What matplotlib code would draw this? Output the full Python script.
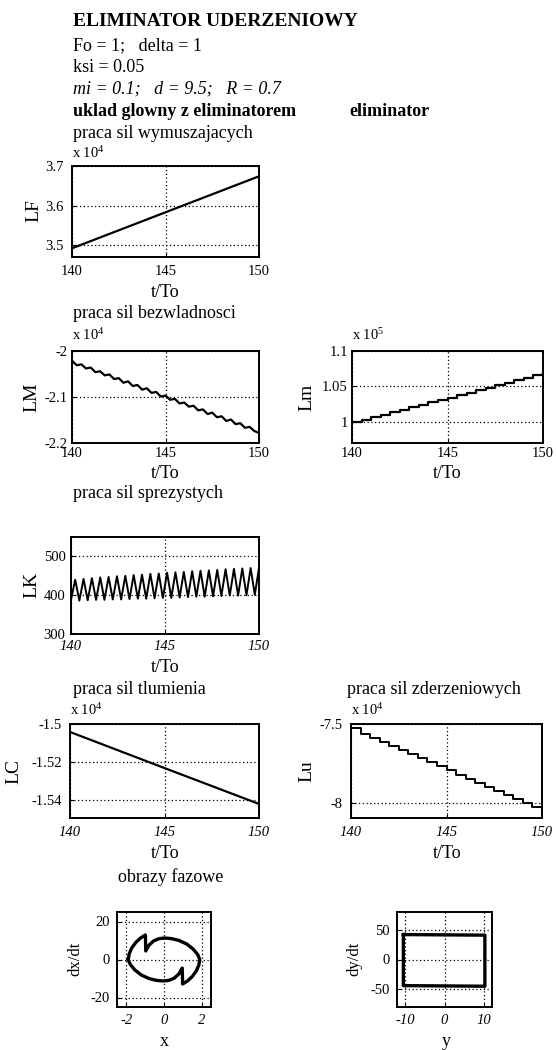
import numpy as np
import matplotlib
matplotlib.use('Agg')
import matplotlib.pyplot as plt

plt.rcParams['font.family'] = ['Liberation Serif', 'DejaVu Serif']
plt.rcParams['mathtext.fontset'] = 'custom'
plt.rcParams['mathtext.rm'] = 'Liberation Serif'
plt.rcParams['mathtext.it'] = 'Liberation Serif:italic'
plt.rcParams['axes.unicode_minus'] = False

# ---- data ----
t_lf = [140, 145, 150]
lf = [3.492, 3.583, 3.674]            # x 10^4

t_lm = np.linspace(140, 150, 41)
lm = [-2.021, -2.031, -2.029, -2.038, -2.036, -2.046, -2.044, -2.053, -2.051, -2.061,
      -2.059, -2.069, -2.066, -2.076, -2.074, -2.084, -2.081, -2.091, -2.089, -2.099,
      -2.097, -2.106, -2.104, -2.114, -2.112, -2.121, -2.119, -2.129, -2.127, -2.137,
      -2.134, -2.144, -2.142, -2.152, -2.149, -2.159, -2.157, -2.167, -2.165, -2.174,
      -2.178]                           # x 10^4

t_lm_el = np.linspace(140, 150, 21)
lm_el = [1.000, 1.003, 1.007, 1.010, 1.014, 1.017, 1.021, 1.024, 1.028, 1.031, 1.034,
         1.038, 1.041, 1.045, 1.048, 1.052, 1.055, 1.059, 1.062, 1.066, 1.069]  # x 10^5

lk_troughs = [388, 386, 387, 388, 388, 389, 389, 390, 391, 391, 392, 393, 393, 394,
              395, 396, 396, 397, 398, 399, 399, 400, 401]
lk_peaks = [440, 442, 444, 446, 447, 449, 450, 452, 453, 455, 456, 458, 459, 460,
            462, 463, 464, 465, 467, 468, 469, 470, 471]

t_lc = [140, 145, 150]
lc = [-1.5042, -1.5232, -1.5421]       # x 10^4

t_lu = np.linspace(140, 150, 21)
lu = [-7.525, -7.564, -7.589, -7.615, -7.640, -7.666, -7.692, -7.717, -7.743, -7.768,
      -7.794, -7.820, -7.845, -7.871, -7.896, -7.922, -7.948, -7.973, -7.999, -8.024,
      -8.050]                          # x 10^4

ph_x = [-1.90, -1.85, -1.72, -1.50, -1.25, -0.99, -0.97, -0.80, -0.55, -0.25, 0.05, 0.40,
        0.80, 1.20, 1.55, 1.80, 1.90, 1.85, 1.72, 1.50, 1.25, 0.99, 0.97, 0.80, 0.55,
        0.25, -0.05, -0.40, -0.80, -1.20, -1.55, -1.80, -1.90]
ph_dx = [0.0, 3.0, 6.0, 9.0, 11.3, 12.9, 4.5, 7.5, 9.8, 11.0, 11.3, 11.0, 10.0, 8.2, 5.5,
         2.5, 0.0, -3.0, -6.0, -9.0, -11.3, -12.9, -4.5, -7.5, -9.8, -11.0, -11.3, -11.0,
         -10.0, -8.2, -5.5, -2.5, 0.0]

ph_y = [-10.4, 10.2, 10.2, -10.4, -10.4]
ph_dy = [42, 41, -45, -44, 42]

W, H = 556, 1050
fig = plt.figure(figsize=(W / 100, H / 100), dpi=100)

TXT = 13      # body text size
TCK = 10.5    # tick label size


def add_ax(l, t, r, b):
    return fig.add_axes([l / W, 1 - b / H, (r - l) / W, (b - t) / H])


def ftext(x, y, s, **kw):
    kw.setdefault('va', 'center')
    kw.setdefault('fontsize', TXT)
    fig.text(x / W, 1 - y / H, s, **kw)


def style(ax, xt, yt, ytl, xl, yl, italic_x=False, pad=4):
    ax.set_xlim(*xl)
    ax.set_ylim(*yl)
    ax.set_xticks(xt)
    ax.set_yticks(yt)
    ax.set_yticklabels(ytl)
    ax.tick_params(direction='in', length=3, labelsize=TCK, pad=pad, colors='black')
    if italic_x:
        for lab in ax.get_xticklabels():
            lab.set_style('italic')
    ax.grid(True, color='black', linestyle=(0, (1, 2)), linewidth=0.9)
    for sp in ax.spines.values():
        sp.set_linewidth(1.4)


def exponent(ax_left, y, p):
    ftext(ax_left, y, r'x 10$^{%d}$' % p, fontsize=10.5, ha='left')


# header texts
ftext(73, 22, 'ELIMINATOR UDERZENIOWY', fontsize=14, fontweight='bold')
ftext(73, 46, 'Fo = 1;   delta = 1')
ftext(73, 68, 'ksi = 0.05')
ftext(73, 89, 'mi = 0.1;   d = 9.5;   R = 0.7', style='italic')
ftext(73, 111, 'uklad glowny z eliminatorem', fontweight='bold')
ftext(349, 111, 'eliminator', fontweight='bold')
ftext(73, 133, 'praca sil wymuszajacych')

# LF
ax = add_ax(72, 166, 259, 257)
ax.plot(t_lf, lf, color='black', lw=1.6)
style(ax, [140, 145, 150], [3.5, 3.6, 3.7], ['3.5', '3.6', '3.7'], (140, 150), (3.47, 3.7), pad=6)
exponent(72, 153, 4)
ftext(34, 211, 'LF', fontsize=14, rotation=90, ha='center')
ftext(165, 292, 't/To', ha='center')

# LM
ftext(73, 314, 'praca sil bezwladnosci')
ax = add_ax(72, 351, 259, 443)
ax.plot(t_lm, lm, color='black', lw=1.6)
style(ax, [140, 145, 150], [-2.2, -2.1, -2.0], ['-2.2', '-2.1', '-2'], (140, 150), (-2.2, -2.0), pad=3)
exponent(72, 335, 4)
ftext(32, 397, 'LM', fontsize=14, rotation=90, ha='center')
ftext(165, 473, 't/To', ha='center')

# Lm (eliminator)
ax = add_ax(352, 351, 543, 443)
ax.step(t_lm_el, lm_el, where='post', color='black', lw=1.6)
style(ax, [140, 145, 150], [1.0, 1.05, 1.1], ['1', '1.05', '1.1'], (140, 150), (0.97, 1.1), pad=3)
exponent(352, 335, 5)
ftext(307, 397, 'Lm', fontsize=14, rotation=90, ha='center')
ftext(447, 473, 't/To', ha='center')

# LK
ftext(73, 494, 'praca sil sprezystych')
t_lk = np.linspace(140, 150, 2 * len(lk_peaks))
lk = np.empty(2 * len(lk_peaks))
lk[0::2] = lk_troughs
lk[1::2] = lk_peaks
ax = add_ax(71, 537, 259, 634)
ax.plot(t_lk, lk, color='black', lw=1.4)
style(ax, [140, 145, 150], [300, 400, 500], ['300', '400', '500'], (140, 150), (300, 550),
      italic_x=True, pad=4)
ftext(32, 585, 'LK', fontsize=14, rotation=90, ha='center')
ftext(165, 667, 't/To', ha='center')

# LC
ftext(73, 690, 'praca sil tlumienia')
ax = add_ax(70, 724, 259, 818)
ax.plot(t_lc, lc, color='black', lw=1.6)
style(ax, [140, 145, 150], [-1.54, -1.52, -1.5], ['-1.54', '-1.52', '-1.5'], (140, 150),
      (-1.5495, -1.5), italic_x=True, pad=6)
exponent(70, 710, 4)
ftext(14, 771, 'LC', fontsize=14, rotation=90, ha='center')
ftext(165, 854, 't/To', ha='center')

# Lu
ftext(347, 690, 'praca sil zderzeniowych')
ax = add_ax(351, 724, 542, 818)
ax.step(t_lu, lu, where='post', color='black', lw=1.4)
style(ax, [140, 145, 150], [-8.0, -7.5], ['-8', '-7.5'], (140, 150), (-8.095, -7.5),
      italic_x=True, pad=6)
exponent(351, 710, 4)
ftext(307, 771, 'Lu', fontsize=14, rotation=90, ha='center')
ftext(447, 854, 't/To', ha='center')

# phase portraits
ftext(118, 877, 'obrazy fazowe')
ax = add_ax(117, 912, 211, 1007)
ax.plot(ph_x, ph_dx, color='black', lw=2.4)
style(ax, [-2, 0, 2], [-20, 0, 20], ['-20', '0', '20'], (-2.5, 2.5), (-25, 25), italic_x=True, pad=5)
ftext(75, 959, 'dx/dt', fontsize=12, rotation=90, ha='center')
ftext(164, 1042, 'x', ha='center')

ax = add_ax(397, 912, 492, 1007)
ax.plot(ph_y, ph_dy, color='black', lw=2.4)
style(ax, [-10, 0, 10], [-50, 0, 50], ['-50', '0', '50'], (-12, 12), (-80, 80), italic_x=True, pad=5)
ftext(354, 959, 'dy/dt', fontsize=12, rotation=90, ha='center')
ftext(446, 1042, 'y', ha='center')

fig.savefig('out.png', dpi=100)
